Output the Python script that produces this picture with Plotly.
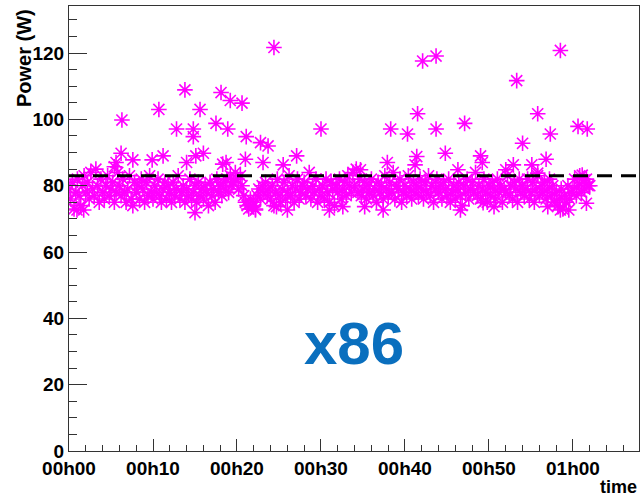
import plotly.graph_objects as go

# ---------------- data ----------------
# regular sampling of the power readings (minutes since start)
sample_step_min = 0.2
band_power = [
    79, 76, 81, 73, 78, 82, 77, 74, 80, 83,
    78, 81, 76, 84, 79, 77, 85, 80, 75, 82,
    78, 76, 80, 83, 77, 79, 81, 75, 78, 84,
    80, 77, 82, 78, 75, 79, 83, 76, 74, 81,
    78, 80, 76, 82, 79, 75, 81, 77, 83, 78,
    76, 80, 78, 82, 77, 75, 79, 81, 76, 80,
    78, 75, 81, 77, 79, 83, 76, 78, 80, 75,
    79, 77, 82, 76, 78, 80, 75, 81, 77, 79,
    76, 80, 78, 74, 81, 77, 79, 75, 82, 78,
    80, 77, 81, 79, 82, 78, 83, 80, 81, 84,
    82, 79, 83, 80, 77, 75, 74, 73, 76, 74,
    75, 73, 77, 79, 76, 80, 78, 81, 77, 79,
    76, 80, 74, 78, 82, 77, 75, 79, 81, 76,
    78, 83, 77, 80, 75, 79, 82, 76, 78, 80,
    81, 77, 79, 84, 76, 80, 78, 82, 75, 79,
    77, 80, 76, 82, 78, 75, 81, 79, 74, 80,
    78, 82, 76, 79, 81, 77, 83, 80, 78, 84,
    80, 85, 78, 82, 77, 79, 81, 76, 80, 78,
    82, 77, 79, 75, 81, 78, 80, 76, 83, 79,
    77, 81, 78, 84, 76, 80, 79, 82, 75, 78,
    80, 77, 83, 79, 76, 81, 78, 80, 77, 82,
    79, 76, 81, 78, 83, 77, 80, 75, 79, 82,
    78, 80, 76, 81, 79, 77, 82, 75, 78, 80,
    76, 79, 81, 77, 74, 80, 78, 82, 76, 79,
    81, 78, 84, 77, 80, 76, 79, 82, 78, 75,
    80, 77, 81, 79, 76, 82, 78, 80, 75, 79,
    78, 83, 77, 80, 76, 81, 79, 75, 82, 78,
    80, 77, 79, 82, 76, 78, 81, 75, 79, 83,
    77, 80, 78, 81, 76, 79, 82, 77, 80, 75,
    78, 74, 76, 79, 73, 77, 75, 80, 76, 78,
    79, 82, 77, 80, 83, 78, 81, 79, 82, 80,
    80,
]
band_time = [i * sample_step_min for i in range(len(band_power))]

# readings outside the main band (minutes, watts)
extra_time = [
    6.3, 6.2, 5.6, 7.6, 10.7, 9.9, 11.2, 12.8, 13.8, 14.8, 14.8, 15.6, 14.0,
    15.1, 16.0, 17.5, 18.1, 19.2, 18.9, 20.6, 18.3, 18.7, 21.0, 21.1, 22.8,
    23.7, 23.1, 24.4, 25.5, 27.1, 30.0, 5.4,
    0.95, 1.75, 15.0, 21.9, 22.2, 24.7, 26.0, 31.0,
    42.1, 43.7, 41.5, 38.3, 40.3, 43.7, 47.1, 44.8, 41.4, 37.9, 41.2, 49.0,
    49.2, 46.3, 34.7, 58.5, 53.3, 55.8, 54.0, 57.3, 60.6, 61.7, 56.8, 55.1,
    52.9, 52.0, 61.1, 55.8,
    32.6, 35.2, 37.4, 46.6, 49.3, 50.6, 57.0, 58.5, 59.5, 61.6,
]
extra_power = [
    99.8, 89.8, 87.0, 87.8, 103.0, 87.8, 89.0, 97.1, 108.9, 97.1, 94.8, 103.0, 87.0,
    89.0, 89.8, 98.8, 108.1, 105.7, 97.1, 104.9, 86.5, 87.0, 88.0, 94.8, 93.0,
    92.0, 87.0, 121.7, 86.3, 89.0, 97.1, 85.7,
    72.7, 72.7, 71.9, 73.7, 72.7, 73.7, 72.7, 72.7,
    117.6, 119.1, 101.7, 97.1, 95.6, 97.1, 98.8, 89.8, 88.8, 87.0, 86.3, 89.0,
    87.0, 84.8, 84.8, 120.8, 111.7, 101.7, 92.8, 95.6, 97.9, 97.1, 88.0, 86.3,
    86.3, 84.8, 83.2, 83.8,
    73.7, 73.7, 72.7, 72.7, 74.9, 73.7, 73.7, 72.7, 72.7, 74.7,
]

mean_power = 83.0
x_tick_vals = [0, 10, 20, 30, 40, 50, 60]
x_tick_text = ["00h00", "00h10", "00h20", "00h30", "00h40", "00h50", "01h00"]
y_tick_vals = [0, 20, 40, 60, 80, 100, 120]
x_range = [0, 67.86]
y_range = [0, 134.2]
label_text = "x86"
label_pos = (33.9, 32.4)

# ---------------- figure ----------------
times = band_time + extra_time
powers = band_power + extra_power

FONT = "Liberation Sans, Arial, Helvetica, sans-serif"

fig = go.Figure()
fig.add_trace(go.Scatter(
    x=times, y=powers, mode="markers",
    marker=dict(symbol="asterisk-open", size=13, color="#FF00FF",
                line=dict(width=1.6, color="#FF00FF")),
    showlegend=False, hoverinfo="skip",
))

fig.add_shape(type="line", xref="paper", x0=0, x1=1, yref="y", y0=mean_power, y1=mean_power,
              line=dict(color="black", width=3, dash="15px,9px"))

fig.add_annotation(x=label_pos[0], y=label_pos[1], xref="x", yref="y", text=label_text,
                   showarrow=False, font=dict(family=FONT, size=60, color="#0A6FBE", weight="bold"))

fig.add_annotation(x=-45 / 570, y=1 - 52 / 445, xref="paper", yref="paper", text="Power (W)",
                   textangle=-90, showarrow=False, xanchor="center", yanchor="middle",
                   font=dict(family=FONT, size=20, color="black", weight="bold"))
fig.add_annotation(x=1.0, y=-36 / 445, xref="paper", yref="paper", text="time",
                   showarrow=False, xanchor="right", yanchor="middle",
                   font=dict(family=FONT, size=18, color="black", weight="bold"))

axis_common = dict(showline=True, linecolor="#333333", linewidth=1, mirror=True,
                   showgrid=False, zeroline=False, ticks="inside", tickcolor="#333333",
                   tickfont=dict(family=FONT, size=19, color="black", weight="bold"))

fig.update_xaxes(range=x_range, tickmode="array", tickvals=x_tick_vals, ticktext=x_tick_text,
                 ticklen=12, tickwidth=1,
                 minor=dict(ticks="inside", dtick=2, ticklen=6, tickcolor="#333333", tickwidth=1),
                 **axis_common)
fig.update_yaxes(range=y_range, tickmode="array", tickvals=y_tick_vals,
                 ticklen=18, tickwidth=1,
                 minor=dict(ticks="inside", dtick=5, ticklen=8, tickcolor="#333333", tickwidth=1),
                 **axis_common)

fig.update_layout(width=641, height=498, margin=dict(l=69, r=2, t=6, b=47),
                  plot_bgcolor="white", paper_bgcolor="white")

fig.write_html("out.html")
